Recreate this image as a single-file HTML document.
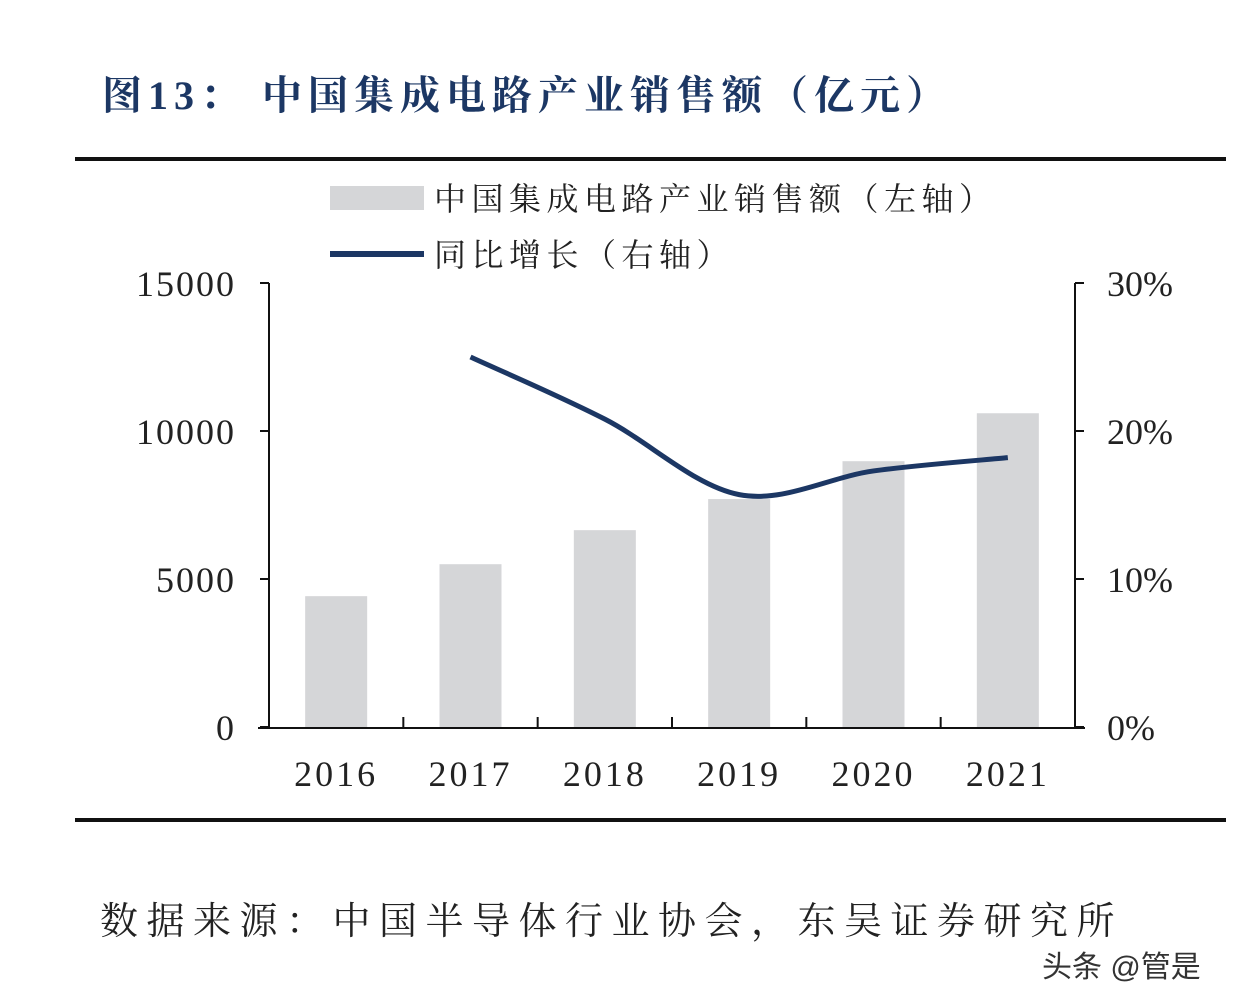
<!DOCTYPE html>
<html><head><meta charset="utf-8"><style>
body{margin:0;background:#fff;width:1234px;height:1004px;overflow:hidden;position:relative;font-family:"Liberation Serif","Noto Serif CJK SC",serif}
.t{position:absolute;white-space:nowrap}
</style></head><body>
<div class="t" style="left:102px;top:64px;font-size:40px;font-weight:bold;color:#1c3764;letter-spacing:6px">图13：&nbsp;中国集成电路产业销售额（亿元）</div>
<div style="position:absolute;left:75px;top:157px;width:1151px;height:4px;background:#111"></div>
<div style="position:absolute;left:75px;top:818px;width:1151px;height:4px;background:#111"></div>
<svg id="c" width="1234" height="1004" style="position:absolute;left:0;top:0"></svg>
<div class="t" style="left:100px;top:890px;font-size:38px;color:#222;letter-spacing:8.5px">数据来源：中国半导体行业协会，东吴证券研究所</div>
<div class="t" style="left:1042px;top:942px;font-size:30px;color:#333;font-family:'Liberation Sans','Noto Sans CJK SC',sans-serif">头条 @管是</div>
<script>
const categories=["2016","2017","2018","2019","2020","2021"];
const sales=[4420,5500,6650,7700,8980,10600];
const growth=[null,25.0,20.8,15.7,17.3,18.2];
const leftTicks=[0,5000,10000,15000];
const rightTicks=[0,10,20,30];
const svg=document.getElementById('c');
const NS='http://www.w3.org/2000/svg';
const x0=269,x1=1075,yb=727,yt=283;
const step=(x1-x0)/categories.length;
const xc=i=>x0+step*(i+0.5);
const yl=v=>yb-(v/15000)*(yb-yt);
const yr=v=>yb-(v/30)*(yb-yt);
function mk(t,a,txt){const e=document.createElementNS(NS,t);for(const k in a)e.setAttribute(k,a[k]);if(txt!=null)e.textContent=txt;svg.appendChild(e);return e;}
const F='"Liberation Serif","Noto Serif CJK SC",serif';
let e=mk('rect',{x:330,y:186,width:94,height:24,fill:'#d5d6d8'});

e=mk('text',{x:434,y:210,'font-size':32,'font-family':F,fill:'#222','letter-spacing':5.5},'中国集成电路产业销售额（左轴）');

e=mk('line',{x1:330,y1:254,x2:424,y2:254,stroke:'#1c3764','stroke-width':6});

e=mk('text',{x:434,y:266,'font-size':32,'font-family':F,fill:'#222','letter-spacing':5.5},'同比增长（右轴）');

sales.forEach((v,i)=>{const b=mk('rect',{x:xc(i)-31,y:yl(v),width:62,height:yb-yl(v),fill:'#d5d6d8'});

});
e=mk('line',{x1:x0,y1:yt,x2:x0,y2:yb,stroke:'#111','stroke-width':2});

e=mk('line',{x1:x1,y1:yt,x2:x1,y2:yb,stroke:'#111','stroke-width':2});

e=mk('line',{x1:258,y1:yb+1,x2:1085,y2:yb+1,stroke:'#111','stroke-width':2});

leftTicks.forEach(v=>{mk('line',{x1:x0-9,y1:yl(v),x2:x0,y2:yl(v),stroke:'#111','stroke-width':2});
const t=mk('text',{x:236,y:yl(v)+13,'font-size':36,'font-family':F,fill:'#222','text-anchor':'end','letter-spacing':2},String(v));
});
rightTicks.forEach(v=>{mk('line',{x1:x1,y1:yr(v),x2:x1+9,y2:yr(v),stroke:'#111','stroke-width':2});
const t=mk('text',{x:1107,y:yr(v)+13,'font-size':36,'font-family':F,fill:'#222'},v+'%');
});
categories.forEach((c,i)=>{if(i>0)mk('line',{x1:x0+step*i,y1:yb-10,x2:x0+step*i,y2:yb,stroke:'#111','stroke-width':2});
const t=mk('text',{x:xc(i),y:786,'font-size':36,'font-family':F,fill:'#222','text-anchor':'middle','letter-spacing':3},c);
});
const pts=[];growth.forEach((v,i)=>{if(v!=null)pts.push([xc(i),yr(v)]);});
let d='M'+pts[0][0]+','+pts[0][1];
for(let i=0;i<pts.length-1;i++){const p0=pts[i-1]||pts[i],p1=pts[i],p2=pts[i+1],p3=pts[i+2]||p2;
d+=' C'+(p1[0]+(p2[0]-p0[0])/6)+','+(p1[1]+(p2[1]-p0[1])/6)+' '+(p2[0]-(p3[0]-p1[0])/6)+','+(p2[1]-(p3[1]-p1[1])/6)+' '+p2[0]+','+p2[1];}
e=mk('path',{d:d,fill:'none',stroke:'#1c3764','stroke-width':5});

</script>
</body></html>
